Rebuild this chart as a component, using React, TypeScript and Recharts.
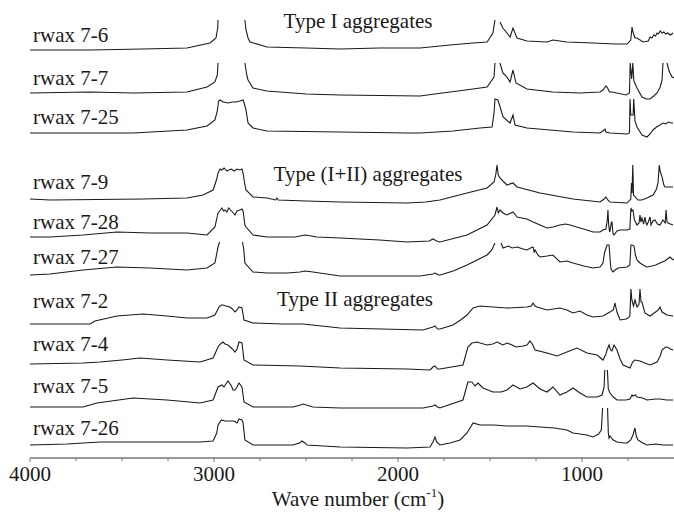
import { LineChart, Line, XAxis, YAxis } from 'recharts'

type Pt = [number, number | null]

// FTIR spectra, relative absorbance (baseline at 4000 cm-1 = 0); null = saturated band
const rwax7_6: Pt[] = [
  [4000, 0], [3674, 0], [3386, 1], [3147, 2], [3022, 7], [2989, 12], [2980, 22], [2978, 30],
  [2900, null],
  [2832, 30], [2826, 20], [2815, 12], [2804, 8], [2712, 3], [2500, 2], [2315, 1], [2100, 2], [1880, 2],
  [1717, 5], [1592, 7], [1516, 8], [1484, 17], [1473, 30],
  [1460, null],
  [1446, 28], [1430, 22], [1408, 17], [1391, 13], [1375, 22], [1353, 12], [1299, 9], [1190, 8], [1158, 10],
  [1082, 8], [940, 7], [820, 6], [755, 6], [735, 10], [728, 23], [723, 18], [712, 12], [701, 12], [668, 8],
  [640, 9], [630, 13], [620, 12], [610, 15], [600, 14], [592, 17], [585, 16], [575, 19], [565, 17],
  [555, 18], [545, 16], [535, 17], [520, 15], [505, 17],
]

const rwax7_7: Pt[] = [
  [4000, 0], [3674, 1], [3440, 0], [3147, 1], [3038, 6], [2995, 11], [2982, 18], [2978, 30],
  [2900, null],
  [2832, 30], [2822, 18], [2815, 13], [2788, 5], [2712, 2], [2500, -1], [2315, -2], [1880, -3], [1800, -1],
  [1717, 1], [1592, 4], [1516, 6], [1478, 16], [1473, 30],
  [1460, null],
  [1446, 30], [1430, 20], [1408, 16], [1391, 11], [1375, 23], [1359, 10], [1299, 4], [1158, 1], [1011, 0],
  [902, 1], [886, 3], [870, 7], [864, 6], [850, 1], [837, 1], [760, -2], [742, 0], [738, 30], [730, 14],
  [724, 30], [718, 12], [701, 5], [674, -4], [650, -6], [630, -6], [610, -3], [592, 0], [575, 6], [565, 13],
  [560, 30],
  [550, null],
  [538, 30], [530, 24], [522, 20], [510, 16], [500, 15],
]

const rwax7_25: Pt[] = [
  [4000, 0], [3674, 0], [3440, 0], [3147, 3], [3038, 7], [2995, 13], [2982, 22], [2975, 32], [2967, 33],
  [2950, 31], [2924, 30], [2900, 31], [2880, 31], [2859, 32], [2842, 33], [2830, 26], [2826, 23], [2815, 10],
  [2788, 5], [2712, 2], [2315, 1], [1951, 0], [1880, 0], [1701, 2], [1554, 5], [1489, 6], [1478, 20],
  [1473, 34], [1457, 33], [1445, 26], [1429, 16], [1391, 10], [1375, 18], [1364, 8], [1299, 5], [1049, 1],
  [902, 0], [880, 3], [875, 4], [870, 1], [848, 0], [755, -1], [742, 0], [739, 34], [735, 18], [722, 18],
  [719, 34], [712, 12], [701, 6], [674, -2], [647, -4], [630, -1], [614, 3], [595, 6], [576, 8], [560, 10],
  [545, 9], [530, 11], [515, 10], [505, 10],
]

const rwax7_9: Pt[] = [
  [4000, 0], [3891, -1], [3386, 0], [3147, 1], [3060, 4], [3005, 9], [2985, 20], [2978, 26], [2967, 30],
  [2957, 29], [2945, 31], [2930, 28], [2920, 29], [2905, 30], [2890, 28], [2875, 30], [2860, 29], [2848, 30],
  [2842, 26], [2832, 14], [2826, 9], [2788, 2], [2712, 1], [2665, -1], [2658, 1], [2650, -1], [2500, -2],
  [2315, -3], [1951, -4], [1850, -3], [1772, -1], [1625, 6], [1516, 11], [1478, 17], [1468, 25], [1462, 34],
  [1455, 24], [1446, 21], [1408, 14], [1375, 16], [1353, 12], [1228, 6], [1049, 0], [902, -3], [880, 0],
  [870, 2], [860, -1], [848, -3], [755, -4], [735, 0], [731, 16], [728, 6], [724, 34], [720, 4], [696, -1],
  [674, -1], [647, 1], [614, 4], [595, 10], [587, 16], [580, 34], [576, 28], [565, 22], [555, 14], [549, 12],
  [530, 12], [505, 12],
]

const rwax7_28: Pt[] = [
  [4000, 0], [3891, 0], [3712, 2], [3527, 5], [3348, 4], [3147, 4], [3038, 2], [2995, 10], [2978, 24],
  [2965, 27], [2957, 29], [2948, 26], [2940, 27], [2930, 25], [2920, 29], [2910, 27], [2900, 25], [2886, 22],
  [2875, 26], [2860, 27], [2848, 28], [2842, 26], [2832, 12], [2826, 10], [2788, 2], [2712, 0], [2560, 0],
  [2533, 1], [2505, 2], [2470, 1], [2440, 0], [2315, -1], [2100, -3], [1951, -5], [1830, -4], [1810, -2],
  [1790, -4], [1772, -5], [1625, 2], [1516, 12], [1473, 22], [1462, 30], [1455, 24], [1446, 27], [1430, 24],
  [1408, 22], [1375, 25], [1353, 20], [1300, 18], [1266, 15], [1228, 12], [1190, 9], [1158, 10], [1120, 12],
  [1090, 13], [1065, 12], [1011, 9], [973, 7], [940, 5], [902, 5], [886, 7], [870, 8], [862, 18], [859, 27],
  [855, 12], [850, 5], [848, 6], [840, 15], [837, 15], [832, 4], [826, 2], [810, 6], [793, 7], [755, 7],
  [740, 8], [734, 29], [730, 26], [723, 27], [715, 17], [701, 12], [690, 14], [685, 22], [680, 15], [674, 19],
  [665, 13], [658, 20], [652, 14], [647, 12], [640, 15], [630, 20], [625, 12], [615, 16], [603, 17], [590, 13],
  [576, 12], [560, 17], [548, 14], [543, 27], [538, 15], [533, 14], [520, 13], [505, 12],
]

const rwax7_27: Pt[] = [
  [4000, 0], [3891, 1], [3712, 5], [3527, 8], [3348, 7], [3147, 5], [3038, 7], [2995, 12], [2978, 28],
  [2970, 33],
  [2960, null],
  [2845, 33], [2838, 25], [2832, 12], [2788, 3], [2712, 2], [2600, 2], [2533, 3], [2505, 4], [2462, 3],
  [2315, -1], [1880, -1], [1810, 1], [1799, 2], [1780, 0], [1772, 0], [1700, 4], [1625, 10], [1516, 20],
  [1490, 25], [1473, 32],
  [1465, null],
  [1440, 32], [1429, 27], [1400, 29], [1380, 27], [1353, 28], [1320, 26], [1299, 25], [1280, 27], [1266, 28],
  [1260, 23], [1255, 25], [1240, 20], [1228, 18], [1190, 19], [1158, 20], [1120, 13], [1082, 14], [1049, 12],
  [990, 9], [940, 7], [902, 8], [886, 12], [878, 22], [864, 30], [853, 30], [845, 10], [842, 6], [832, 3],
  [820, 5], [804, 7], [755, 8], [740, 10], [734, 30], [728, 30], [717, 29], [710, 20], [701, 15], [685, 12],
  [668, 10], [647, 8], [620, 9], [600, 10], [576, 12], [550, 14], [522, 18], [510, 16], [500, 15],
]

const rwax7_2: Pt[] = [
  [4000, 0], [3674, 0], [3647, 3], [3527, 8], [3386, 10], [3255, 8], [3147, 6], [3038, 6], [2995, 9],
  [2973, 17], [2960, 19], [2951, 19], [2935, 18], [2913, 17], [2900, 15], [2886, 12], [2875, 14], [2864, 17],
  [2848, 16], [2837, 4], [2788, 1], [2625, 0], [2516, 0], [2315, -4], [1864, -6], [1810, -3], [1799, -2],
  [1785, -5], [1772, -5], [1701, -1], [1660, 4], [1625, 9], [1592, 16], [1554, 18], [1484, 17], [1408, 16],
  [1299, 17], [1275, 18], [1266, 21], [1255, 18], [1245, 17], [1190, 14], [1120, 16], [1082, 14], [1049, 11],
  [1011, 13], [973, 9], [940, 7], [886, 8], [848, 12], [830, 14], [821, 21], [810, 12], [793, 4], [760, 5],
  [750, 6], [740, 8], [734, 35], [729, 24], [720, 18], [712, 24], [701, 17], [690, 20], [685, 35], [679, 22],
  [674, 22], [658, 11], [640, 9], [630, 8], [600, 12], [585, 14], [576, 17], [565, 12], [538, 9], [505, 8],
]

const rwax7_4: Pt[] = [
  [4000, 0], [3712, 1], [3620, 2], [3500, 4], [3402, 6], [3255, 4], [3076, 2], [3005, 6], [2978, 17],
  [2965, 20], [2951, 22], [2940, 20], [2924, 19], [2900, 15], [2886, 12], [2875, 15], [2864, 22], [2848, 21],
  [2837, 4], [2788, -1], [2533, -2], [2315, -4], [1951, -5], [1826, -6], [1810, -3], [1799, -2], [1785, -5],
  [1772, -5], [1647, -1], [1620, 17], [1598, 21], [1570, 22], [1554, 21], [1516, 19], [1485, 20], [1462, 22],
  [1440, 20], [1429, 19], [1408, 21], [1380, 19], [1359, 17], [1320, 18], [1299, 19], [1283, 23], [1270, 20],
  [1255, 14], [1190, 11], [1136, 8], [1082, 12], [1027, 16], [973, 11], [918, 9], [886, 4], [870, 10],
  [864, 14], [853, 19], [845, 14], [837, 13], [826, 19], [810, 14], [793, 5], [777, -1], [739, -4], [725, 2],
  [712, 4], [685, 3], [660, 1], [630, -1], [592, 2], [575, 8], [565, 14], [545, 17], [538, 17], [520, 15],
  [505, 14],
]

const rwax7_5: Pt[] = [
  [4000, 0], [3712, 0], [3636, 4], [3440, 9], [3255, 7], [3076, 4], [3005, 7], [2978, 20], [2957, 22],
  [2946, 20], [2924, 26], [2905, 21], [2897, 17], [2886, 17], [2875, 20], [2864, 24], [2848, 20], [2837, 5],
  [2788, 0], [2571, 0], [2530, 2], [2516, 3], [2462, 0], [2315, -1], [1864, -1], [1810, 1], [1799, 2],
  [1785, 0], [1772, -1], [1647, 7], [1620, 25], [1598, 25], [1582, 21], [1565, 24], [1538, 19], [1484, 15],
  [1440, 15], [1408, 17], [1375, 22], [1337, 18], [1300, 20], [1266, 24], [1228, 18], [1190, 15], [1158, 20],
  [1120, 12], [1082, 15], [1049, 19], [1011, 14], [973, 10], [918, 10], [891, 12], [880, 20], [876, 37],
  [870, null],
  [862, 37], [857, 18], [848, 14], [830, 10], [810, 7], [760, 7], [739, 8], [728, 12], [723, 11], [710, 12],
  [701, 10], [670, 9], [647, 7], [600, 8], [576, 8], [540, 7], [505, 7],
]

const rwax7_26: Pt[] = [
  [4000, 0], [3800, 1], [3620, 3], [3300, 3], [3076, 3], [3005, 4], [2985, 12], [2978, 20], [2960, 25],
  [2940, 24], [2913, 24], [2890, 24], [2875, 22], [2864, 26], [2848, 25], [2842, 22], [2832, 5], [2788, 0],
  [2571, 0], [2535, 2], [2522, 4], [2505, 2], [2495, 0], [2315, -2], [1951, -3], [1826, -2], [1810, 3],
  [1799, 8], [1790, 3], [1772, 0], [1717, 2], [1663, 5], [1625, 12], [1592, 22], [1554, 20], [1480, 20],
  [1408, 19], [1300, 19], [1228, 18], [1150, 17], [1082, 15], [1049, 12], [973, 10], [940, 8], [910, 11],
  [895, 15], [888, 37],
  [875, null],
  [861, 37], [857, 12], [853, 7], [848, 9], [830, 5], [810, 3], [770, 2], [755, 2], [735, 5], [723, 10],
  [712, 17], [705, 9], [696, 5], [670, 2], [647, 0], [600, 1], [560, 0], [505, 0],
]

const sampleNames = [
  'rwax 7-6', 'rwax 7-7', 'rwax 7-25',
  'rwax 7-9', 'rwax 7-28', 'rwax 7-27',
  'rwax 7-2', 'rwax 7-4', 'rwax 7-5', 'rwax 7-26',
]
const spectra = [
  rwax7_6, rwax7_7, rwax7_25,
  rwax7_9, rwax7_28, rwax7_27,
  rwax7_2, rwax7_4, rwax7_5, rwax7_26,
]
// vertical stacking offset of each trace
const stackOffset = [408, 365, 325, 259, 221, 183, 134, 94, 51, 13]

const groupTitles = ['Type I aggregates', 'Type (I+II) aggregates', 'Type II aggregates']

const xTicks = [4000, 3750, 3500, 3250, 3000, 2750, 2500, 2250, 2000, 1750, 1500, 1250, 1000, 750]

const W = 674
const H = 515
const PLOT_H = 458
const FONT = "'Liberation Serif', 'Times New Roman', serif"
const INK = '#1a1a1a'
const textStyle = { fontFamily: FONT }

const traces = spectra.map((pts, i) =>
  pts.map(([w, v]) => ({ w, y: v === null ? null : stackOffset[i] + v }))
)

// label rows (centre y) and group title positions
const labelY = [35, 78, 117, 182, 222, 257, 301, 344, 386, 428]
const groupPos = [
  { x: 358, y: 21 },
  { x: 368, y: 174 },
  { x: 355, y: 299 },
]

// eslint-disable-next-line @typescript-eslint/no-explicit-any
function WaveTick({ x, y, payload }: any) {
  const major = payload.value % 1000 === 0
  return (
    <g>
      <line x1={x} x2={x} y1={y} y2={y + (major ? 4 : 3)} stroke="#777" strokeWidth={1} />
      {major && (
        <text x={x} y={y + 23} textAnchor="middle" fontSize={21} fill={INK} style={textStyle}>
          {payload.value}
        </text>
      )}
    </g>
  )
}

export default function App() {
  return (
    <div style={{ position: 'absolute', left: 0, top: 0, width: W, height: H, background: '#fff' }}>
      <LineChart width={W} height={H} margin={{ top: 0, right: 0, bottom: 0, left: 30 }}>
        <XAxis
          type="number"
          dataKey="w"
          domain={[500, 4000]}
          reversed
          allowDataOverflow
          ticks={xTicks}
          interval={0}
          tick={<WaveTick />}
          tickLine={false}
          tickSize={0}
          tickMargin={0}
          axisLine={{ stroke: '#777', strokeWidth: 1.5 }}
          height={H - PLOT_H}
        />
        <YAxis type="number" domain={[0, PLOT_H]} hide allowDataOverflow />
        {traces.map((d, i) => (
          <Line
            key={sampleNames[i]}
            data={d}
            dataKey="y"
            type="linear"
            stroke={INK}
            strokeWidth={1.1}
            dot={false}
            activeDot={false}
            isAnimationActive={false}
          />
        ))}
      </LineChart>
      <svg
        width={W}
        height={H}
        style={{ position: 'absolute', left: 0, top: 0, pointerEvents: 'none', fontFamily: FONT }}
        fill={INK}
      >
        {sampleNames.map((name, i) => (
          <text key={name} x={33} y={labelY[i]} fontSize={21} dominantBaseline="central" style={textStyle}>
            {name}
          </text>
        ))}
        {groupTitles.map((t, i) => (
          <text
            key={t}
            x={groupPos[i].x}
            y={groupPos[i].y}
            fontSize={21}
            textAnchor="middle"
            dominantBaseline="central"
            style={textStyle}
          >
            {t}
          </text>
        ))}
        <text x={358} y={506} fontSize={21} textAnchor="middle" style={textStyle}>
          Wave number (cm
          <tspan fontSize={13} dy={-9}>-1</tspan>
          <tspan dy={9}>)</tspan>
        </text>
      </svg>
    </div>
  )
}
